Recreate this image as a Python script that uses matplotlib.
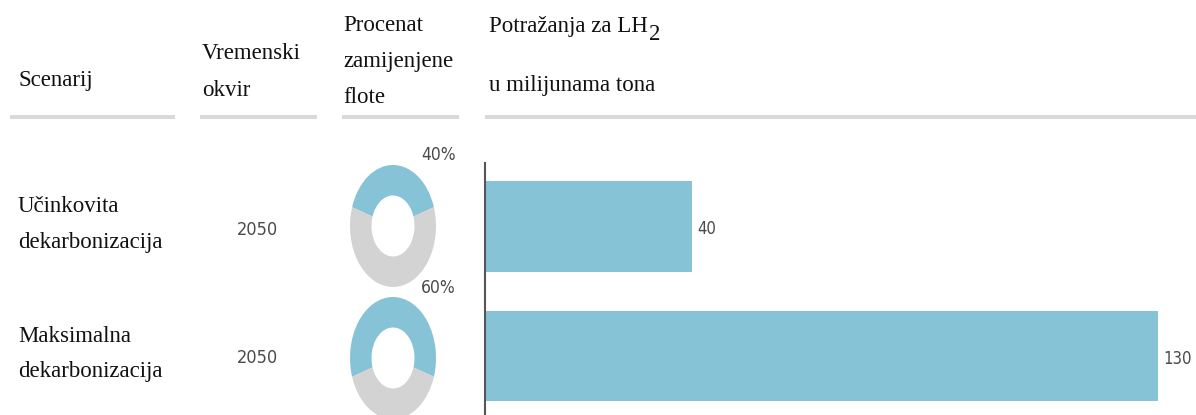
import matplotlib
matplotlib.use("Agg")
import matplotlib.pyplot as plt

# ---- data ----
header_scenario = ["Scenarij"]
header_time = ["Vremenski", "okvir"]
header_fleet = ["Procenat", "zamijenjene", "flote"]
header_demand = ["Potražanja za LH", "u milijunama tona"]
header_demand_sub = "2"
scenarios = [["Učinkovita", "dekarbonizacija"], ["Maksimalna", "dekarbonizacija"]]
timeframes = ["2050", "2050"]
fleet_pct = [40, 60]
demand = [40, 130]

W, H = 1196, 415
fig = plt.figure(figsize=(W / 100, H / 100), dpi=100)
fig.patch.set_facecolor("white")


def fx(px):
    return px / W


def fy(py):
    return 1 - py / H


serif = "Liberation Serif"
sans = "DejaVu Sans"
bar_color = "#86C3D6"
gray = "#D3D3D3"
line_gray = "#D9D9D9"
num_color = "#4a4a4a"
txt_color = "#111111"
FS = 16.5


def lines(x, baselines, texts):
    out = []
    for b, t in zip(baselines, texts):
        out.append(fig.text(fx(x), fy(b), t, family=serif, fontsize=FS, va="baseline",
                            ha="left", color=txt_color))
    return out


# header texts
lines(18, [86], header_scenario)
lines(202, [59, 96], header_time)
lines(343, [31, 67, 103], header_fleet)
dem = lines(489, [32, 91], header_demand)

# subscript "2" placed right after "LH"
renderer = fig.canvas.get_renderer()
bb = dem[0].get_window_extent(renderer=renderer)
fig.text(bb.x1 / W + fx(1), fy(40), header_demand_sub, family=serif, fontsize=FS,
         va="baseline", ha="left", color=txt_color)

# header underlines
for x0, x1 in [(10, 175), (200, 317), (342, 459), (485, 1196)]:
    fig.add_artist(plt.Line2D([fx(x0), fx(x1)], [fy(117), fy(117)], color=line_gray, lw=2.9,
                              solid_capstyle="butt", transform=fig.transFigure))

# rows
row_baselines = [[212, 248], [342, 377]]
row_center = [230, 358]
for i, (sc, tf) in enumerate(zip(scenarios, timeframes)):
    lines(18, row_baselines[i], sc)
    fig.text(fx(258), fy(row_center[i]), tf, family=sans, fontstretch="condensed",
             fontsize=13, va="center", ha="center", color=num_color)

# donuts
donut_centers = [(393, 226), (393, 358)]
pct_label_y = [155, 288]
rx, ry = 43, 61
for (cx, cy), p, ly in zip(donut_centers, fleet_pct, pct_label_y):
    ax = fig.add_axes([fx(cx - rx), fy(cy + ry), 2 * rx / W, 2 * ry / H])
    ang = 90 + 360 * p / 200
    ax.pie([p, 100 - p], colors=[bar_color, gray], startangle=ang, counterclock=False,
           wedgeprops=dict(width=0.5, edgecolor="none"), radius=1.0)
    ax.set_aspect("auto")
    ax.set_xlim(-1, 1)
    ax.set_ylim(-1, 1)
    ax.axis("off")
    fig.text(fx(421), fy(ly), f"{p}%", family=sans, fontstretch="condensed", fontsize=12.5,
             va="center", ha="left", color=num_color)

# bars
axb = fig.add_axes([fx(485), fy(415), 709 / W, (415 - 163) / H])
ypos = list(range(len(demand)))
axb.barh(ypos, demand, height=0.70, color=bar_color)
axb.set_xlim(0, 137)
axb.set_ylim(1.456, -0.49)
for s in ["top", "right", "bottom"]:
    axb.spines[s].set_visible(False)
axb.spines["left"].set_color("#555555")
axb.spines["left"].set_linewidth(1.5)
axb.set_xticks([])
axb.set_yticks([])
for y, v in zip(ypos, demand):
    axb.text(v + 1.0, y + 0.02, f"{v}", va="center", ha="left", family=sans,
             fontstretch="condensed", fontsize=12, color=num_color)

fig.savefig("out.png", dpi=100, facecolor="white")
